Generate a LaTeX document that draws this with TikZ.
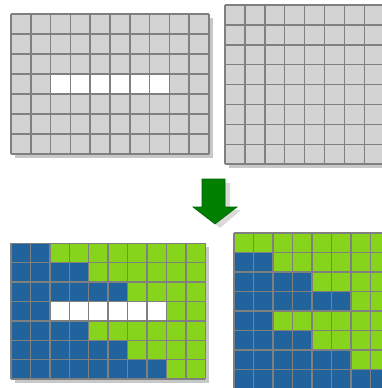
\documentclass[tikz,border=0pt]{standalone}
\definecolor{cL}{RGB}{211,211,211}
\definecolor{cW}{RGB}{255,255,255}
\definecolor{cB}{RGB}{33,99,156}
\definecolor{cG}{RGB}{134,212,28}
\definecolor{linegray}{RGB}{128,128,128}
\definecolor{shadowgray}{RGB}{200,200,200}
\definecolor{agreen}{RGB}{0,128,0}
\tikzset{
  gridline/.style={draw=linegray, line width=1.5pt},
  arrowbody/.style={fill=agreen, draw=agreen!75!black, line width=0.6pt},
  arrowshadow/.style={fill=black!15}
}
\newcommand\cellgrid[7]{%
  \fill[shadowgray] (#1+4,#2+4) rectangle ++(#6*#3,#7*#4);
  \foreach \rowspec [count=\rr from 0] in {#5} {
    \foreach \cc [count=\kk from 0] in \rowspec {
      \fill[\cc] ({#1+\kk*#3-0.3},{#2+\rr*#4-0.3}) rectangle ++(#3+0.6,#4+0.6);
    }
  }
  \foreach \kk in {0,...,#6} {\draw[gridline] ({#1+\kk*#3},#2) -- ++(0,#7*#4);}
  \foreach \rr in {0,...,#7} {\draw[gridline] (#1,{#2+\rr*#4}) -- ++(#6*#3,0);}
}
\begin{document}
\begin{tikzpicture}[x=1pt,y=-1pt]
\useasboundingbox (0,0) rectangle (382,388);
\clip (0,0) rectangle (382,388);
% top-left grid
\cellgrid{11}{14}{19.8}{20}{%
 {cL,cL,cL,cL,cL,cL,cL,cL,cL,cL},
 {cL,cL,cL,cL,cL,cL,cL,cL,cL,cL},
 {cL,cL,cL,cL,cL,cL,cL,cL,cL,cL},
 {cL,cL,cW,cW,cW,cW,cW,cW,cL,cL},
 {cL,cL,cL,cL,cL,cL,cL,cL,cL,cL},
 {cL,cL,cL,cL,cL,cL,cL,cL,cL,cL},
 {cL,cL,cL,cL,cL,cL,cL,cL,cL,cL}}{10}{7}
% top-right grid
\cellgrid{225}{5}{19.9}{19.9}{%
 {cL,cL,cL,cL,cL,cL,cL,cL},
 {cL,cL,cL,cL,cL,cL,cL,cL},
 {cL,cL,cL,cL,cL,cL,cL,cL},
 {cL,cL,cL,cL,cL,cL,cL,cL},
 {cL,cL,cL,cL,cL,cL,cL,cL},
 {cL,cL,cL,cL,cL,cL,cL,cL},
 {cL,cL,cL,cL,cL,cL,cL,cL},
 {cL,cL,cL,cL,cL,cL,cL,cL}}{8}{8}
% bottom-left grid
\cellgrid{11}{243.3}{19.43}{19.4}{%
 {cB,cB,cG,cG,cG,cG,cG,cG,cG,cG},
 {cB,cB,cB,cB,cG,cG,cG,cG,cG,cG},
 {cB,cB,cB,cB,cB,cB,cG,cG,cG,cG},
 {cB,cB,cW,cW,cW,cW,cW,cW,cG,cG},
 {cB,cB,cB,cB,cG,cG,cG,cG,cG,cG},
 {cB,cB,cB,cB,cB,cB,cG,cG,cG,cG},
 {cB,cB,cB,cB,cB,cB,cB,cB,cG,cG}}{10}{7}
% bottom-right grid
\cellgrid{234}{233}{19.5}{19.5}{%
 {cG,cG,cG,cG,cG,cG,cG,cG},
 {cB,cB,cG,cG,cG,cG,cG,cG},
 {cB,cB,cB,cB,cG,cG,cG,cG},
 {cB,cB,cB,cB,cB,cB,cG,cG},
 {cB,cB,cG,cG,cG,cG,cG,cG},
 {cB,cB,cB,cB,cG,cG,cG,cG},
 {cB,cB,cB,cB,cB,cB,cG,cG},
 {cB,cB,cB,cB,cB,cB,cB,cB}}{8}{8}
% arrow
\fill[arrowshadow] (207,183) -- (230,183) -- (230,210) -- (241,210) -- (220,228) -- (198,210) -- (207,210) -- cycle;
\filldraw[arrowbody] (202,179) -- (225,179) -- (225,207) -- (237,207) -- (215,224) -- (193,207) -- (202,207) -- cycle;
\end{tikzpicture}
\end{document}
